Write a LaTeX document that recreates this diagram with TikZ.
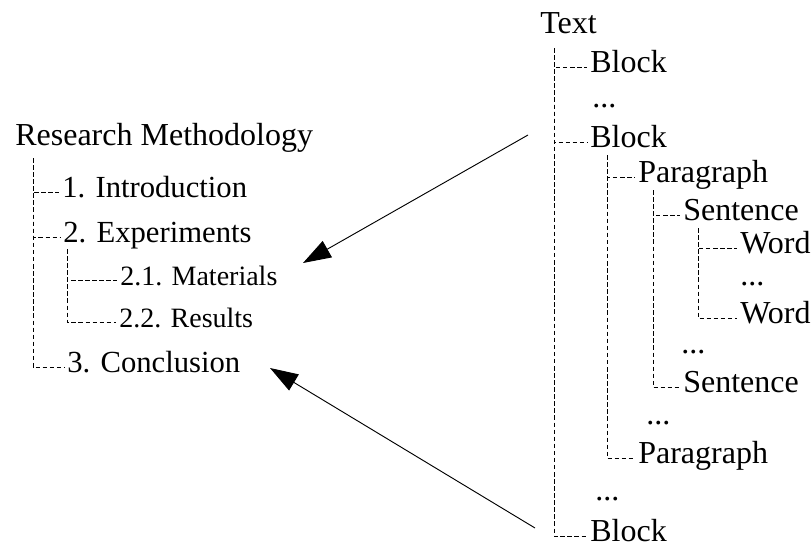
\documentclass[tikz,border=0pt]{standalone}
\usepackage{fontspec}
\setmainfont{Liberation Serif}
\usetikzlibrary{arrows.meta}
\tikzstyle{branch} = [draw, dash pattern=on 3.4pt off 1.9pt, line width=0.6pt]
\tikzstyle{pointer} = [draw, -{Triangle[length=21pt,width=14pt]}, line width=0.7pt]
\tikzstyle{item} = [anchor=base west, inner sep=0pt, outer sep=2.5pt, text height=0.9em, text depth=0.2em]

\begin{document}
\begin{tikzpicture}[x=0.75pt,y=-0.75pt]
	\useasboundingbox (0,0) rectangle (811,546);
	\tikzstyle{every node}=[item, font=\fontsize{24}{28}\selectfont]
	\tikzstyle{sub} = [font=\fontsize{23}{27}\selectfont]
	\tikzstyle{subsub} = [font=\fontsize{21}{25}\selectfont]
	
	% ------------------- Left tree ------------------- %
	\node (RM) at (12,145) {Research Methodology};
	\node[sub] (Intro) at (59,197) {1. Introduction};
	\node[sub] (Exp) at (60,242) {2. Experiments};
	\node[subsub] (Mat) at (117,285) {2.1. Materials};
	\node[subsub] (Res) at (116,327) {2.2. Results};
	\node[sub] (Concl) at (64,372) {3. Conclusion};
	
	\coordinate (rmTop) at (33,158);
	\coordinate (expTop) at (67,249);
	\draw[branch] (rmTop) |- (Intro.west);
	\draw[branch] (rmTop) |- (Exp.west);
	\draw[branch] (rmTop) |- (Concl.west);
	\draw[branch] (expTop) |- (Mat.west);
	\draw[branch] (expTop) |- (Res.west);
	
	% ------------------- Right tree ------------------- %
	\node (Text) at (537,33) {Text};
	\node (Block1) at (587,72) {Block};
	\node (dotsA) at (589,107) {...};
	\node (Block2) at (587,147) {Block};
	\node (Para1) at (635,182) {Paragraph};
	\node (Sent1) at (680,220) {Sentence};
	\node (Word1) at (737,253) {Word};
	\node (dotsB) at (737,285) {...};
	\node (Word2) at (737,323) {Word};
	\node (dotsC) at (678,353) {...};
	\node (Sent2) at (680,392) {Sentence};
	\node (dotsD) at (643,424) {...};
	\node (Para2) at (635,463) {Paragraph};
	\node (dotsE) at (592,500) {...};
	\node[text height=0.7em, text depth=0pt] (Block3) at (587,541) {Block};
	
	\coordinate (textTop) at (554,48);
	\coordinate (blockTop) at (607,155);
	\coordinate (paraTop) at (653,190);
	\coordinate (sentTop) at (698,228);
	\draw[branch] (textTop) |- (Block1.west);
	\draw[branch] (textTop) |- (Block2.west);
	\draw[branch] (textTop) |- (Block3.west);
	\draw[branch] (blockTop) |- (Para1.west);
	\draw[branch] (blockTop) |- (Para2.west);
	\draw[branch] (paraTop) |- (Sent1.west);
	\draw[branch] (paraTop) |- (Sent2.west);
	\draw[branch] (sentTop) |- (Word1.west);
	\draw[branch] (sentTop) |- (Word2.west);
	
	% ------------------- Arrows ------------------- %
	\coordinate (fromBlock2) at (528,135);
	\coordinate (toExp) at (303,263);
	\coordinate (fromBlock3) at (535,528);
	\coordinate (toConcl) at (270,368);
	\draw[pointer] (fromBlock2) -- (toExp);
	\draw[pointer] (fromBlock3) -- (toConcl);
	
\end{tikzpicture}
\end{document}
